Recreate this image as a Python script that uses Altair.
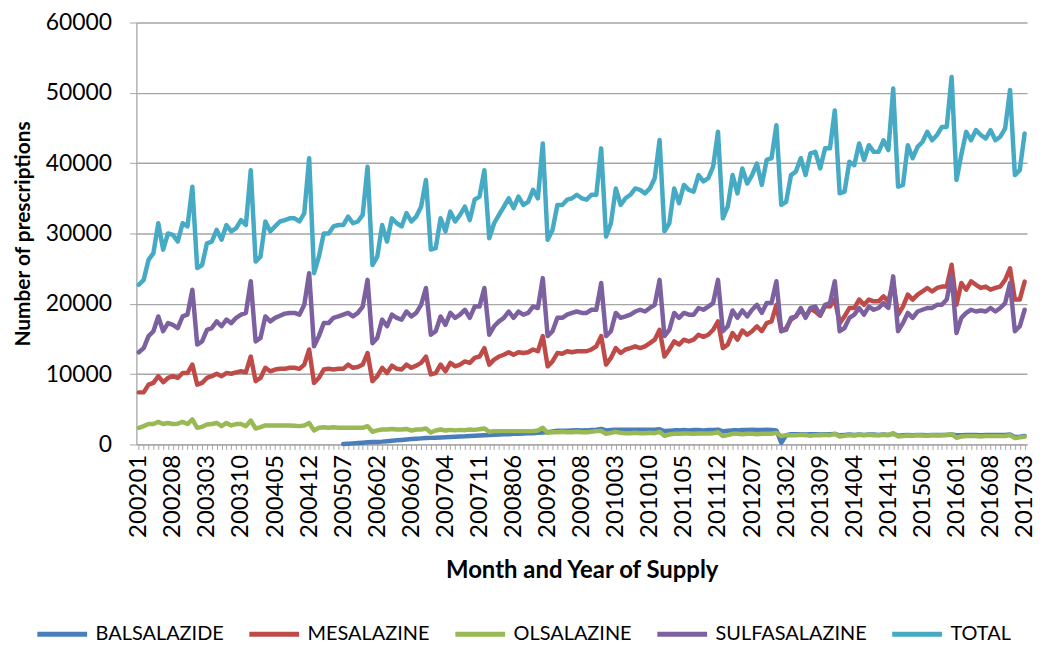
import altair as alt
import pandas as pd

# Month categories 200201 .. 201703
months = [f"{y}{m:02d}" for y in range(2002, 2018) for m in range(1, 13)][:183]

series_names = ["BALSALAZIDE", "MESALAZINE", "OLSALAZINE", "SULFASALAZINE", "TOTAL"]
series_colors = ["#4A7EBB", "#BE4B48", "#98B954", "#7D60A0", "#46AAC5"]

balsalazide = (
    [None] * 36
    + [None, None, None, None, None, None, 50, 100, 150, 200, 250, 300]
    + [330, 360, 400, 460, 520, 580, 640, 700, 760, 810, 860, 900]
    + [930, 960, 1000, 1030, 1060, 1090, 1120, 1150, 1200, 1230, 1260, 1300]
    + [1330, 1360, 1400, 1430, 1460, 1500, 1520, 1550, 1580, 1600, 1650, 1700]
    + [1750, 1850, 1950, 1950, 1950, 1980, 2000, 1980, 2000, 2050, 2100, 2200]
    + [2000, 2050, 2100, 2100, 2100, 2100, 2100, 2100, 2100, 2100, 2100, 2150]
    + [1900, 1950, 2000, 2000, 2050, 2000, 2050, 2050, 2000, 2050, 2050, 2100]
    + [1850, 1950, 2000, 2000, 2050, 2050, 2100, 2050, 2050, 2100, 2050, 2000]
    + [250, 1300, 1450, 1450, 1450, 1400, 1450, 1450, 1400, 1450, 1450, 1500]
    + [1300, 1350, 1400, 1350, 1400, 1350, 1400, 1400, 1350, 1400, 1350, 1500]
    + [1250, 1300, 1350, 1300, 1350, 1350, 1300, 1350, 1350, 1350, 1350, 1400]
    + [1300, 1300, 1350, 1350, 1350, 1300, 1350, 1350, 1350, 1350, 1350, 1400]
    + [1050, 1100, 1200]
)

mesalazine = (
    [7400, 7400, 8500, 8750, 9700, 8850, 9450, 9700, 9450, 10150, 10150, 11350]
    + [8500, 8750, 9450, 9700, 10050, 9700, 10150, 10050, 10250, 10400, 10250, 12500]
    + [9000, 9450, 10900, 10400, 10650, 10750, 10750, 10900, 10900, 10750, 11350, 13500]
    + [8750, 9450, 10650, 10750, 10650, 10750, 10750, 11350, 10900, 11000, 11350, 13000]
    + [9000, 9700, 10900, 10150, 11200, 10750, 10650, 11350, 10900, 11200, 11600, 12500]
    + [9950, 10150, 11350, 10400, 11600, 11100, 11350, 11800, 11600, 12300, 12500, 13700]
    + [11350, 12050, 12500, 12750, 13100, 12750, 13100, 13000, 13100, 13500, 13250, 15400]
    + [11100, 11800, 13000, 12900, 13250, 13100, 13250, 13250, 13250, 13500, 13950, 15400]
    + [11350, 12300, 13700, 13000, 13500, 13700, 13950, 13700, 13950, 14400, 14900, 16300]
    + [12500, 13500, 14650, 14200, 14900, 14650, 14900, 15600, 15300, 15600, 16300, 17500]
    + [13700, 14200, 15850, 14900, 16200, 15600, 16100, 16800, 16100, 17250, 17500, 19850]
    + [16100, 16550, 17750, 18200, 19150, 18200, 19250, 18900, 18300, 19700, 19600, 20650]
    + [17250, 18200, 19400, 19400, 20600, 19850, 20600, 20350, 20350, 21050, 20350, 23000]
    + [18450, 19600, 21300, 20600, 21300, 21750, 22250, 21750, 22250, 22450, 22450, 25550]
    + [19850, 22950, 22000, 23200, 22700, 22250, 22450, 22000, 22250, 22450, 23400, 25050]
    + [20600, 20600, 23150]
)

olsalazine = (
    [2360, 2600, 2900, 2900, 3200, 2900, 3050, 2900, 2950, 3200, 2900, 3550]
    + [2360, 2500, 2830, 2900, 3050, 2600, 3050, 2700, 2900, 2900, 2600, 3400]
    + [2270, 2450, 2700, 2700, 2700, 2700, 2700, 2700, 2650, 2600, 2700, 3050]
    + [1980, 2360, 2450, 2360, 2450, 2360, 2360, 2360, 2360, 2360, 2360, 2600]
    + [1800, 2000, 2120, 2120, 2200, 2120, 2120, 2200, 1980, 2120, 2120, 2270]
    + [1700, 1980, 2120, 1980, 2070, 2000, 2070, 2030, 2120, 2070, 2170, 2270]
    + [1790, 1890, 1890, 1890, 1890, 1890, 1890, 1890, 1890, 1890, 1980, 2360]
    + [1650, 1740, 1740, 1790, 1740, 1740, 1790, 1740, 1740, 1790, 1890, 1900]
    + [1510, 1650, 1790, 1650, 1600, 1600, 1650, 1600, 1600, 1650, 1600, 1790]
    + [1230, 1415, 1510, 1510, 1560, 1560, 1510, 1560, 1560, 1560, 1600, 1740]
    + [1180, 1320, 1510, 1510, 1460, 1510, 1510, 1460, 1510, 1510, 1510, 1650]
    + [1180, 1320, 1320, 1320, 1370, 1320, 1230, 1320, 1320, 1370, 1320, 1510]
    + [1130, 1230, 1320, 1280, 1370, 1320, 1370, 1320, 1320, 1370, 1320, 1600]
    + [1130, 1180, 1280, 1230, 1320, 1280, 1230, 1320, 1280, 1320, 1370, 1460]
    + [950, 1130, 1180, 1180, 1180, 1130, 1180, 1180, 1180, 1180, 1180, 1320]
    + [900, 1000, 1100]
)

sulfasalazine = (
    [13100, 13700, 15400, 16100, 18200, 16100, 17250, 17000, 16550, 18200, 18450, 22000]
    + [14200, 14650, 16300, 16550, 17500, 16800, 17750, 17250, 18000, 18450, 18700, 23200]
    + [14650, 15150, 18200, 17500, 18000, 18300, 18600, 18700, 18700, 18450, 19850, 24350]
    + [13950, 15400, 17250, 17250, 18000, 18200, 18450, 18700, 18200, 18700, 19600, 23400]
    + [14400, 15150, 17750, 16800, 18450, 18000, 17750, 18900, 18200, 18700, 19850, 22250]
    + [15600, 16100, 18200, 17000, 18700, 18000, 18450, 19150, 18000, 19600, 19600, 22250]
    + [15600, 16800, 17500, 18000, 18900, 18000, 18900, 18450, 18700, 19600, 19400, 23650]
    + [15400, 16100, 18000, 18000, 18450, 18700, 18900, 18700, 18700, 19150, 19150, 22950]
    + [15400, 16100, 18700, 18000, 18200, 18450, 18900, 19150, 18900, 19400, 19850, 23400]
    + [15400, 16300, 18700, 18000, 18700, 18450, 18450, 19400, 19150, 19600, 20100, 23400]
    + [16100, 16800, 19050, 18000, 19050, 18200, 19150, 19850, 18700, 20100, 20100, 23200]
    + [16100, 16300, 18000, 18200, 19400, 18000, 19400, 19600, 18450, 19850, 20100, 23200]
    + [16100, 16550, 18000, 18450, 19400, 18450, 19600, 19150, 19400, 20100, 19400, 23900]
    + [16100, 17250, 18700, 18000, 18900, 19150, 19400, 19400, 19850, 19850, 20600, 24100]
    + [15850, 18000, 18700, 19150, 18900, 19050, 18900, 19400, 18900, 19400, 20100, 22950]
    + [16100, 16800, 19150]
)

total = (
    [22700, 23400, 26250, 27200, 31450, 27700, 30000, 29800, 28850, 31450, 31000, 36650]
    + [25070, 25500, 28600, 28850, 30500, 29100, 31200, 30300, 30750, 31900, 31200, 39000]
    + [26000, 26700, 31700, 30300, 31000, 31700, 31900, 32150, 32150, 31700, 32900, 40700]
    + [24350, 26700, 30000, 30000, 31000, 31200, 31200, 32400, 31450, 31700, 32650, 39500]
    + [25500, 26700, 31200, 28850, 32150, 31450, 31000, 32900, 31700, 32400, 33800, 37600]
    + [27700, 27900, 32150, 30300, 33100, 31700, 32650, 33800, 31900, 34800, 35250, 39000]
    + [29300, 31450, 32650, 33800, 35000, 33600, 35250, 34050, 34500, 36200, 35000, 42800]
    + [29100, 30500, 34050, 34050, 34800, 35000, 35500, 35000, 34800, 35500, 35500, 42100]
    + [29550, 31450, 36400, 34050, 35000, 35500, 36400, 36200, 35700, 36400, 37850, 43300]
    + [30300, 31450, 36400, 34300, 36900, 36200, 35950, 38300, 37400, 37850, 39500, 44450]
    + [32150, 33800, 38300, 35700, 39250, 37100, 38300, 39950, 36900, 40450, 40700, 45400]
    + [34050, 34500, 38300, 38800, 40700, 38300, 41400, 41600, 39250, 42100, 42100, 47500]
    + [35700, 35950, 40200, 39700, 42800, 40450, 42550, 41600, 41600, 43250, 41850, 50600]
    + [36650, 36900, 42550, 40700, 42300, 43000, 44450, 43250, 44000, 45150, 45150, 52250]
    + [37600, 41200, 44450, 43250, 44700, 44000, 43500, 44700, 43250, 43750, 44950, 50400]
    + [38300, 39000, 44200]
)

y_ticks = [0, 10000, 20000, 30000, 40000, 50000, 60000]

rows = []
for name, vals in zip(series_names, [balsalazide, mesalazine, olsalazine, sulfasalazine, total]):
    for m, v in zip(months, vals):
        if v is not None:
            rows.append({"month": m, "value": v, "series": name})
df = pd.DataFrame(rows)

FONT = "Lato"
GRID = "#A6A6A6"

label_expr = (
    "((floor(toNumber(datum.value)/100)-2002)*12 + (toNumber(datum.value)%100) - 1) % 7 == 0"
    " ? datum.value : ''"
)

chart = (
    alt.Chart(df)
    .mark_line(strokeWidth=4.5, strokeJoin="round", strokeCap="round")
    .encode(
        x=alt.X(
            "month:O",
            sort=months,
            scale=alt.Scale(type="point", padding=0.5),
            axis=alt.Axis(
                title="Month and Year of Supply",
                labelExpr=label_expr,
                labelAngle=270,
                labelOverlap=False,
                labelFont=FONT,
                labelFontSize=24,
                labelColor="#000000",
                labelPadding=5,
                tickSize=5,
                tickColor=GRID,
                domainColor=GRID,
                domainWidth=1.3,
                grid=False,
                titleFont=FONT,
                titleFontSize=24,
                titleFontWeight="bold",
                titleColor="#000000",
                titleY=115,
                titleBaseline="top",
            ),
        ),
        y=alt.Y(
            "value:Q",
            scale=alt.Scale(domain=[0, 60000], nice=False),
            axis=alt.Axis(
                title="Number of prescriptions",
                values=y_ticks,
                format="d",
                labelFont=FONT,
                labelFontSize=23,
                labelColor="#000000",
                labelPadding=18,
                tickSize=7,
                tickColor=GRID,
                domainColor=GRID,
                domainWidth=1.3,
                grid=True,
                gridColor=GRID,
                gridWidth=1.4,
                titleFont=FONT,
                titleFontSize=21,
                titleFontWeight="bold",
                titleColor="#000000",
                titleAngle=270,
                titleX=-103,
                titleY=212,
                titleAlign="center",
                titleBaseline="bottom",
            ),
        ),
        color=alt.Color(
            "series:N",
            scale=alt.Scale(domain=series_names, range=series_colors),
            legend=alt.Legend(
                title=None,
                orient="none",
                legendX=-102,
                legendY=587,
                direction="horizontal",
                symbolType="stroke",
                symbolSize=2500,
                symbolStrokeWidth=5,
                labelFont=FONT,
                labelFontSize=20,
                labelColor="#000000",
                labelOffset=6,
                columnPadding=15,
            ),
        ),
    )
    .properties(
        width=895,
        height=424,
        autosize=alt.AutoSizeParams(type="none"),
        padding={"left": 129, "top": 13, "right": 11, "bottom": 199},
    )
    .configure_view(stroke=None)
)

chart.save("out.html", embed_options={"renderer": "svg", "actions": False})
